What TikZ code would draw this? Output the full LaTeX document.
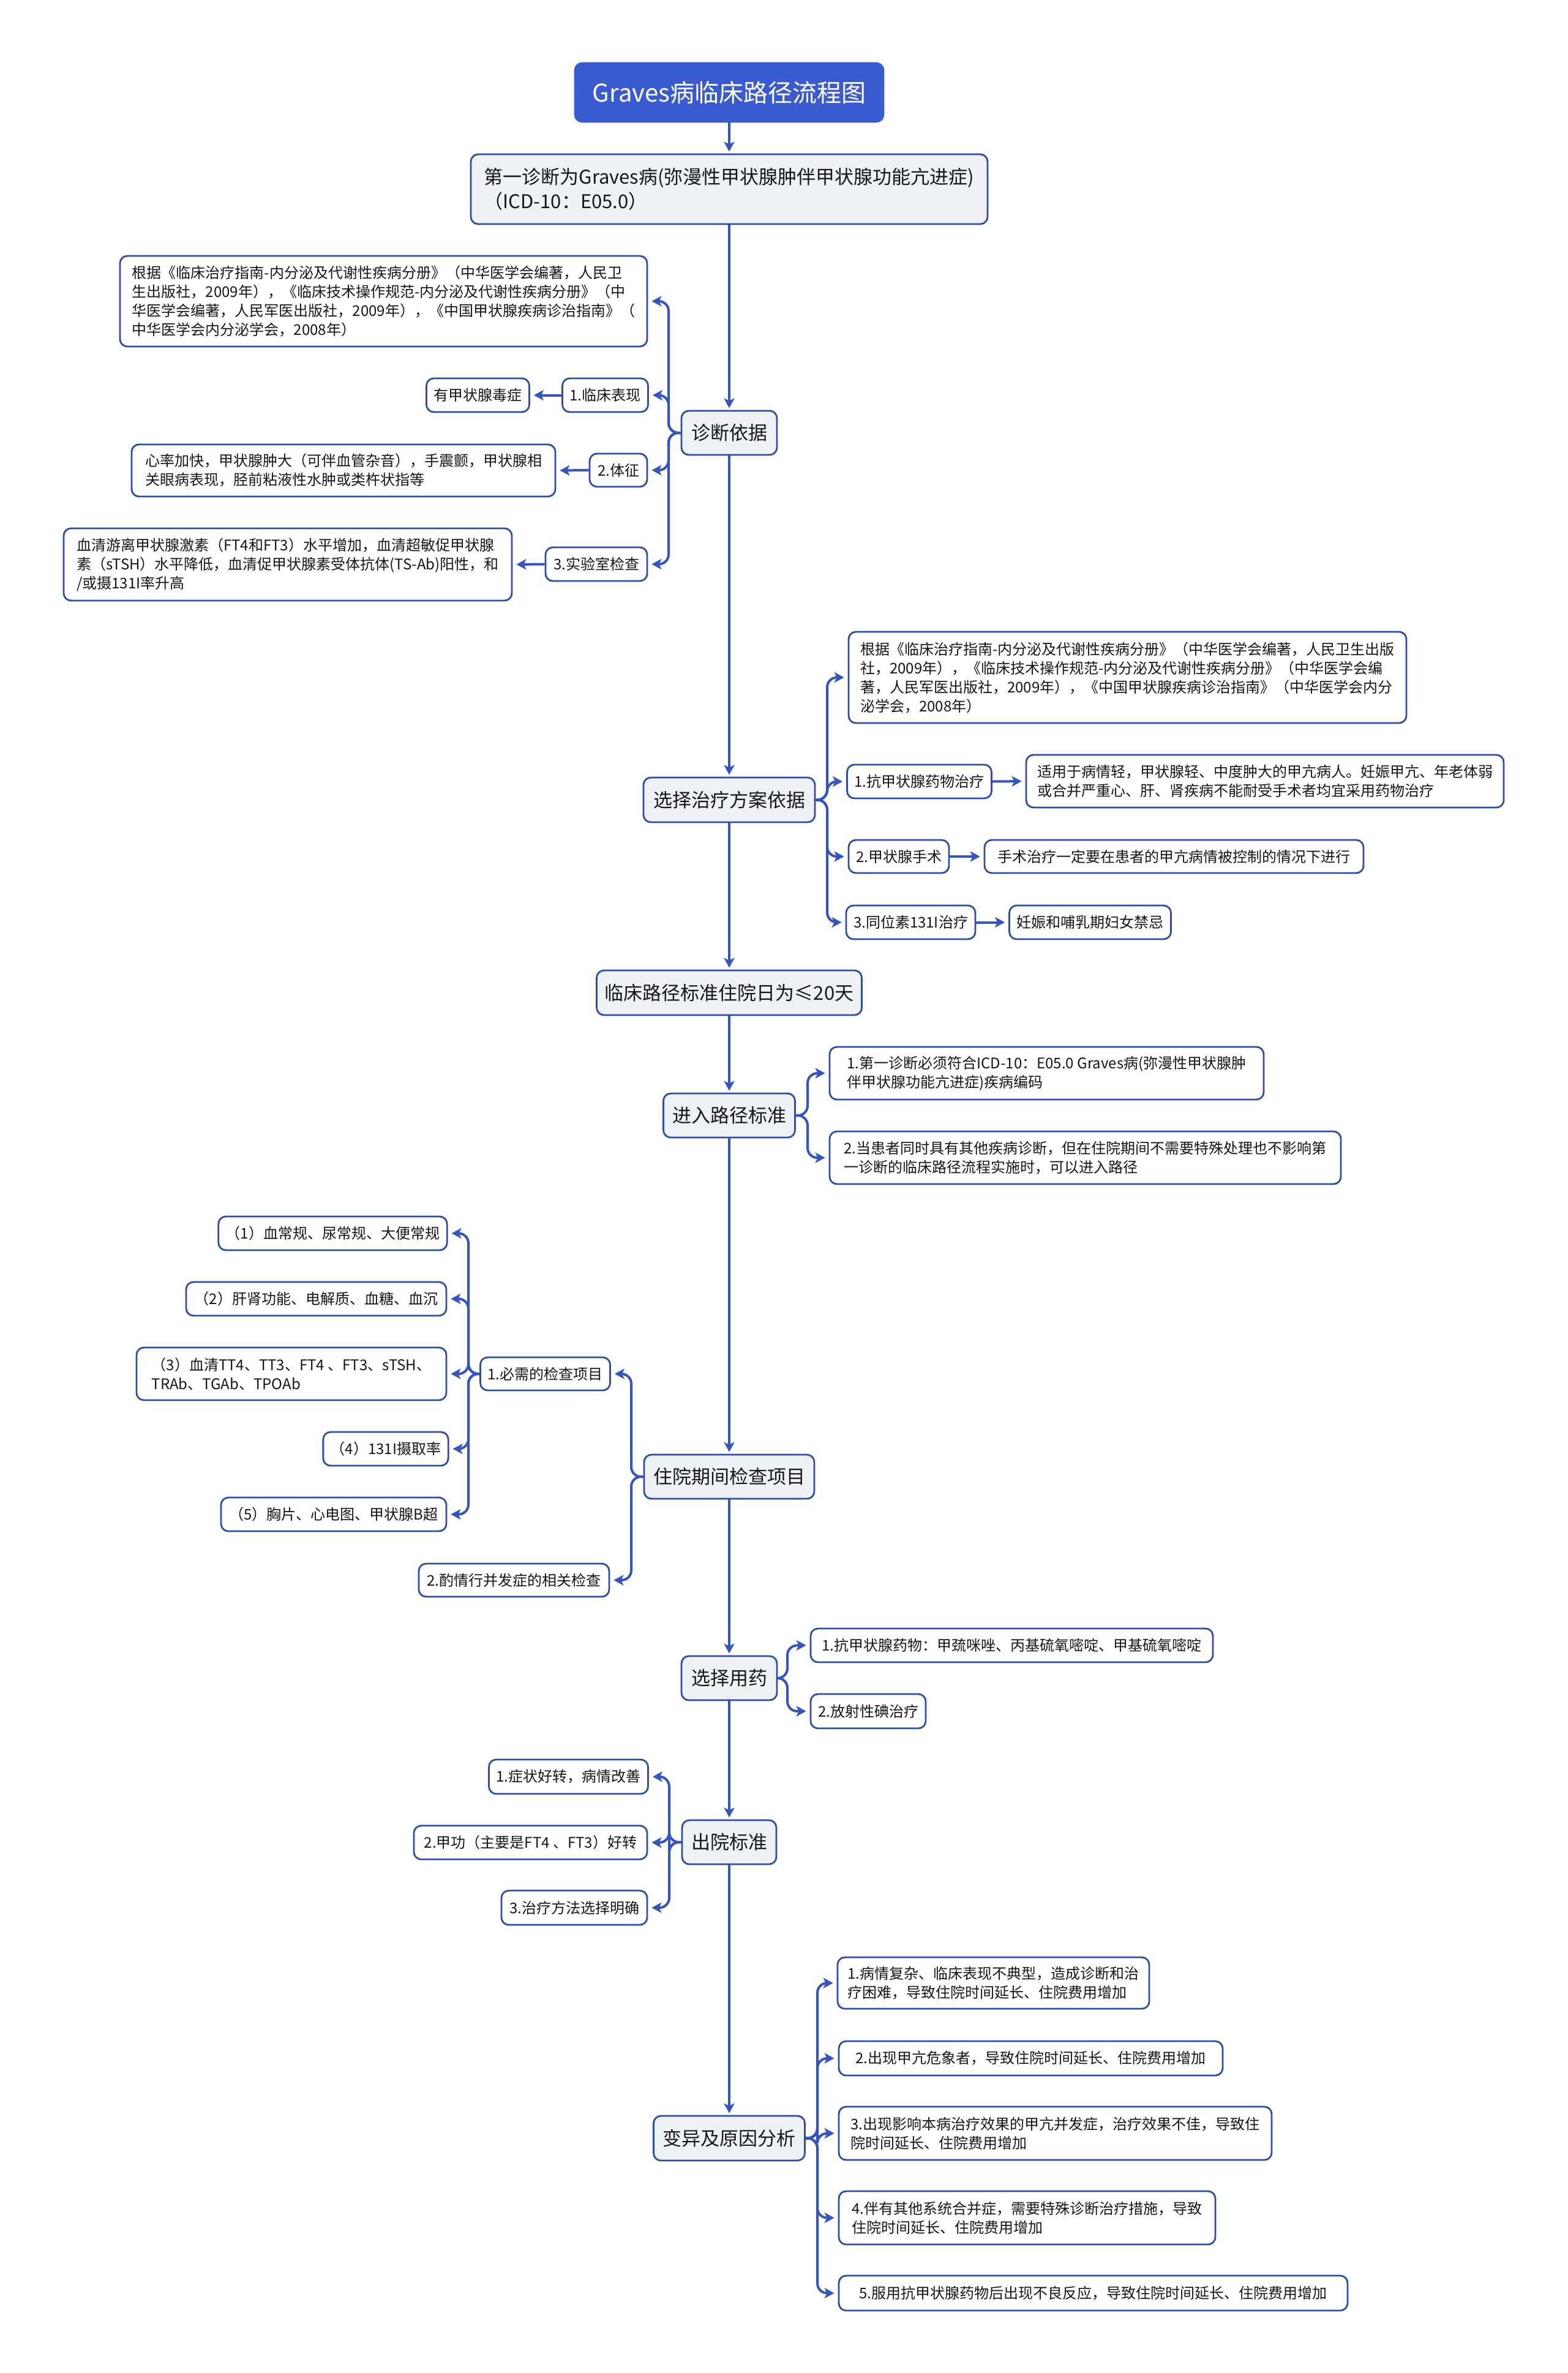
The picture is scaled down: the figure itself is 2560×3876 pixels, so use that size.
\documentclass[tikz,border=0pt]{standalone}
\usepackage{fontspec}
\setmainfont{Noto Sans CJK SC}
\usetikzlibrary{arrows.meta}
\definecolor{lineblue}{HTML}{3554C4}
\definecolor{titleblue}{HTML}{3A5BD0}
\definecolor{borderblue}{HTML}{2E4CAA}
\definecolor{mainfill}{HTML}{EEF1F5}
\definecolor{txt}{HTML}{161616}
\tikzset{
 box/.style={draw=borderblue, line width=2.8pt, rounded corners=12pt, inner xsep=12pt, inner ysep=0pt, text=txt, align=left},
 titlebox/.style={box, fill=titleblue, draw=titleblue, text=white, font=\fontsize{40}{48}\selectfont},
 mainbox/.style={box, fill=mainfill, font=\fontsize{31}{40}\selectfont},
 leafbox/.style={box, fill=white, font=\fontsize{24}{31}\selectfont},
 conn/.style={draw=lineblue, line width=4pt, rounded corners=16pt, -{Stealth[length=16pt,width=17pt,inset=4pt]}, shorten >=6pt},
 spine/.style={conn, rounded corners=0pt, shorten >=3pt},
 sz/.style 2 args={minimum width=#1pt, minimum height=#2pt},
}
\begin{document}
\begin{tikzpicture}[x=1pt,y=-1pt]
\fill[white] (0,0) rectangle (2560,3876);
\useasboundingbox (0,0) rectangle (2560,3876);
% bracket coordinates
\coordinate (b1) at (1092,0);
\coordinate (b2) at (1351,0);
\coordinate (b3) at (1319,0);
\coordinate (b4) at (1031,0);
\coordinate (b4i) at (765,0);
\coordinate (b5) at (1286,0);
\coordinate (b6) at (1093,0);
\coordinate (b7) at (1335,0);
% main column
\node[titlebox, sz={504}{96}] (title) at (1191,151) {Graves病临床路径流程图};
\node[mainbox, sz={844}{114}] (n2) at (1191,309) {第一诊断为Graves病(弥漫性甲状腺肿伴甲状腺功能亢进症)\\（ICD-10：E05.0）};
\node[mainbox, sz={156}{72}] (zd) at (1191,707) {诊断依据};
\node[mainbox, sz={280}{73}] (xz) at (1191,1306.5) {选择治疗方案依据};
\node[mainbox, sz={433}{73}] (lc) at (1191,1621.5) {临床路径标准住院日为≤20天};
\node[mainbox, sz={215}{72}] (jr) at (1191,1822) {进入路径标准};
\node[mainbox, sz={278}{72}] (zy) at (1191,2412) {住院期间检查项目};
\node[mainbox, sz={156}{72}] (yy) at (1191,2741) {选择用药};
\node[mainbox, sz={154}{72}] (cy) at (1191,3009) {出院标准};
\node[mainbox, sz={247}{73}] (by) at (1191,3492.5) {变异及原因分析};
% 诊断依据 children
\node[leafbox, sz={861}{148}] (ref1) at (626.5,492) {根据《临床治疗指南-内分泌及代谢性疾病分册》（中华医学会编著，人民卫\\生出版社，2009年），《临床技术操作规范-内分泌及代谢性疾病分册》（中\\华医学会编著，人民军医出版社，2009年），《中国甲状腺疾病诊治指南》（\\中华医学会内分泌学会，2008年）};
\node[leafbox, sz={137}{55}] (lcbx) at (988.5,645.5) {1.临床表现};
\node[leafbox, sz={167}{55}] (jdz) at (780.5,645.5) {有甲状腺毒症};
\node[leafbox, sz={94}{54}] (tz) at (1010,768) {2.体征};
\node[leafbox, sz={692}{85}] (xl) at (561,768.5) {心率加快，甲状腺肿大（可伴血管杂音），手震颤，甲状腺相\\关眼病表现，胫前粘液性水肿或类杵状指等};
\node[leafbox, sz={166}{55}] (sys) at (974,921.5) {3.实验室检查};
\node[leafbox, sz={732}{118}] (xq) at (470,922) {血清游离甲状腺激素（FT4和FT3）水平增加，血清超敏促甲状腺\\素（sTSH）水平降低，血清促甲状腺素受体抗体(TS-Ab)阳性，和\\/或摄131I率升高};
% 选择治疗方案依据 children
\node[leafbox, sz={911}{149}] (ref2) at (1841.5,1106.5) {根据《临床治疗指南-内分泌及代谢性疾病分册》（中华医学会编著，人民卫生出版\\社，2009年），《临床技术操作规范-内分泌及代谢性疾病分册》（中华医学会编\\著，人民军医出版社，2009年），《中国甲状腺疾病诊治指南》（中华医学会内分\\泌学会，2008年）};
\node[leafbox, sz={231}{55}] (kj) at (1501.5,1276.5) {1.抗甲状腺药物治疗};
\node[leafbox, sz={780}{86}] (sy) at (2066,1276) {适用于病情轻，甲状腺轻、中度肿大的甲亢病人。妊娠甲亢、年老体弱\\或合并严重心、肝、肾疾病不能耐受手术者均宜采用药物治疗};
\node[leafbox, sz={164}{54}] (ss) at (1468,1399) {2.甲状腺手术};
\node[leafbox, sz={619}{54}] (sszl) at (1917.5,1399) {手术治疗一定要在患者的甲亢病情被控制的情况下进行};
\node[leafbox, sz={203}{55}] (tws) at (1487.5,1506.5) {3.同位素131I治疗};
\node[leafbox, sz={263}{55}] (rs) at (1780.5,1506.5) {妊娠和哺乳期妇女禁忌};
% 进入路径标准 children
\node[leafbox, sz={709}{86}] (jr1) at (1709.5,1753) {1.第一诊断必须符合ICD-10：E05.0 Graves病(弥漫性甲状腺肿\\伴甲状腺功能亢进症)疾病编码};
\node[leafbox, sz={835}{86}] (jr2) at (1772.5,1891) {2.当患者同时具有其他疾病诊断，但在住院期间不需要特殊处理也不影响第\\一诊断的临床路径流程实施时，可以进入路径};
% 住院期间检查项目 children
\node[leafbox, sz={209}{54}] (bx) at (890.5,2244) {1.必需的检查项目};
\node[leafbox, sz={311}{54}] (zq) at (839.5,2581) {2.酌情行并发症的相关检查};
\node[leafbox, sz={371}{55}] (e1) at (543.5,2014.5) {（1）血常规、尿常规、大便常规};
\node[leafbox, sz={425}{55}] (e2) at (516.5,2121.5) {（2）肝肾功能、电解质、血糖、血沉};
\node[leafbox, sz={506}{86}] (e3) at (476,2244) {（3）血清TT4、TT3、FT4 、FT3、sTSH、\\TRAb、TGAb、TPOAb};
\node[leafbox, sz={198}{55}] (e4) at (630,2366.5) {（4）131I摄取率};
\node[leafbox, sz={368}{55}] (e5) at (545,2473.5) {（5）胸片、心电图、甲状腺B超};
% 选择用药 children
\node[leafbox, sz={657}{55}] (m1) at (1652.5,2687.5) {1.抗甲状腺药物：甲巯咪唑、丙基硫氧嘧啶、甲基硫氧嘧啶};
\node[leafbox, sz={188}{56}] (m2) at (1418,2795) {2.放射性碘治疗};
% 出院标准 children
\node[leafbox, sz={257}{56}] (d1) at (928.5,2902) {1.症状好转，病情改善};
\node[leafbox, sz={381}{55}] (d2) at (866.5,3009.5) {2.甲功（主要是FT4 、FT3）好转};
\node[leafbox, sz={238}{56}] (d3) at (938,3116) {3.治疗方法选择明确};
% 变异 children
\node[leafbox, sz={509}{84}] (v1) at (1622.5,3239) {1.病情复杂、临床表现不典型，造成诊断和治\\疗困难，导致住院时间延长、住院费用增加};
\node[leafbox, sz={627}{56}] (v2) at (1683.5,3362) {2.出现甲亢危象者，导致住院时间延长、住院费用增加};
\node[leafbox, sz={707}{87}] (v3) at (1723.5,3484.5) {3.出现影响本病治疗效果的甲亢并发症，治疗效果不佳，导致住\\院时间延长、住院费用增加};
\node[leafbox, sz={615}{87}] (v4) at (1677.5,3622.5) {4.伴有其他系统合并症，需要特殊诊断治疗措施，导致\\住院时间延长、住院费用增加};
\node[leafbox, sz={831}{57}] (v5) at (1785.5,3745.5) {5.服用抗甲状腺药物后出现不良反应，导致住院时间延长、住院费用增加};
% spine
\draw[spine] (title.south) -- (n2.north);
\draw[spine] (n2.south) -- (zd.north);
\draw[spine] (zd.south) -- (xz.north);
\draw[spine] (xz.south) -- (lc.north);
\draw[spine] (lc.south) -- (jr.north);
\draw[spine] (jr.south) -- (zy.north);
\draw[spine] (zy.south) -- (yy.north);
\draw[spine] (yy.south) -- (cy.north);
\draw[spine] (cy.south) -- (by.north);
% 诊断依据 branches
\foreach \c in {ref1,lcbx,tz,sys} \draw[conn] (zd.west) -- (zd.west -| b1) |- (\c.east);
\draw[conn] (lcbx.west) -- (jdz.east);
\draw[conn] (tz.west) -- (xl.east);
\draw[conn] (sys.west) -- (xq.east);
% 选择治疗方案依据 branches
\foreach \c in {ref2,kj,ss,tws} \draw[conn] (xz.east) -- (xz.east -| b2) |- (\c.west);
\draw[conn] (kj.east) -- (sy.west);
\draw[conn] (ss.east) -- (sszl.west);
\draw[conn] (tws.east) -- (rs.west);
% 进入路径标准
\foreach \c in {jr1,jr2} \draw[conn] (jr.east) -- (jr.east -| b3) |- (\c.west);
% 住院期间检查项目
\foreach \c in {bx,zq} \draw[conn] (zy.west) -- (zy.west -| b4) |- (\c.east);
\foreach \c in {e1,e2,e3,e4,e5} \draw[conn] (bx.west) -- (bx.west -| b4i) |- (\c.east);
% 选择用药
\foreach \c in {m1,m2} \draw[conn] (yy.east) -- (yy.east -| b5) |- (\c.west);
% 出院标准
\foreach \c in {d1,d2,d3} \draw[conn] (cy.west) -- (cy.west -| b6) |- (\c.east);
% 变异
\foreach \c in {v1,v2,v3,v4,v5} \draw[conn] (by.east) -- (by.east -| b7) |- (\c.west);
\end{tikzpicture}
\end{document}
